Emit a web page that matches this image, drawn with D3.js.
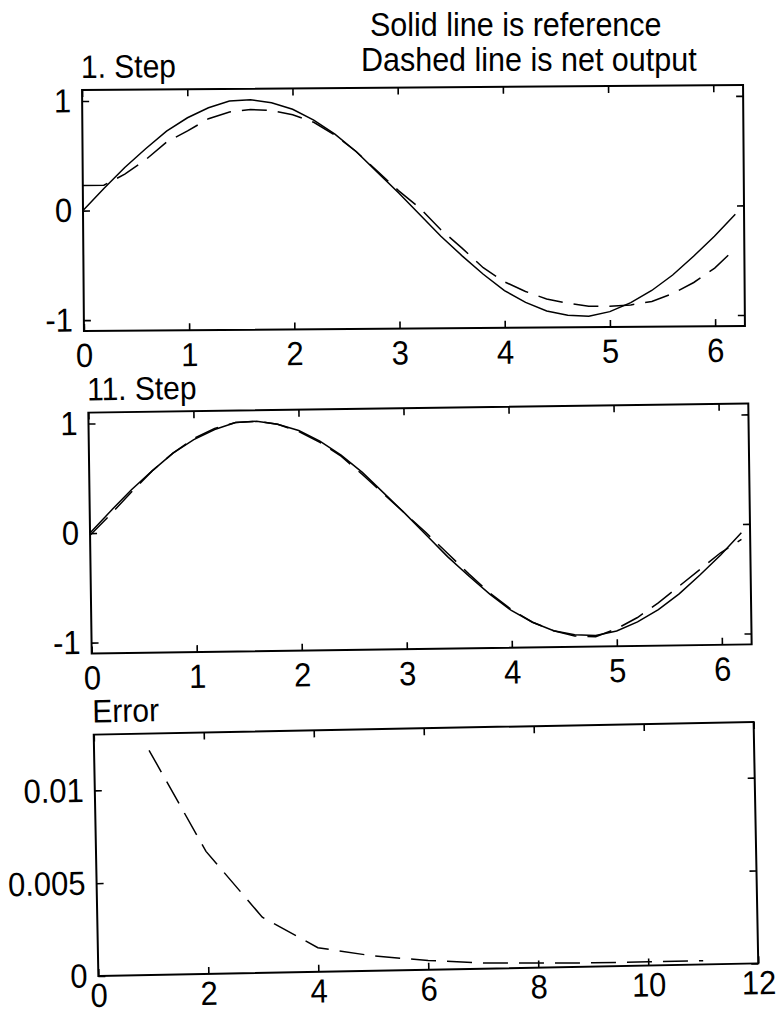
<!DOCTYPE html>
<html>
<head>
<meta charset="utf-8">
<script src="https://cdn.jsdelivr.net/npm/d3@7"></script>
<style>
  body { margin: 0; background: #fff; }
  text {
    font-family: "Liberation Sans", Arial, sans-serif; fill: #000;
    transform-box: fill-box; transform-origin: center; transform: scale(1, 1.08);
  }
</style>
</head>
<body>
<div id="main"></div>
<script>
// x samples of the sine runs
const xs = [0, 0.2, 0.4, 0.6, 0.8, 1.0, 1.2, 1.4, 1.6, 1.8, 2.0, 2.2, 2.4, 2.6, 2.8, 3.0,
            3.2, 3.4, 3.6, 3.8, 4.0, 4.2, 4.4, 4.6, 4.8, 5.0, 5.2, 5.4, 5.6, 5.8, 6.0, 6.2];
// solid line (reference)
const reference = [0.00, 0.20, 0.39, 0.56, 0.72, 0.84, 0.93, 0.99, 1.00, 0.97, 0.91, 0.81, 0.68, 0.52, 0.33, 0.14,
                   -0.06, -0.26, -0.44, -0.61, -0.76, -0.87, -0.95, -0.99, -1.00, -0.96, -0.88, -0.77, -0.63, -0.46, -0.28, -0.08];
// dashed line, net output after step 1
const step1 = [0.23, 0.23, 0.33, 0.46, 0.62, 0.72, 0.83, 0.89, 0.91, 0.90, 0.86, 0.79, 0.67, 0.52, 0.34, 0.16,
               0.00, -0.20, -0.37, -0.55, -0.68, -0.77, -0.84, -0.88, -0.91, -0.91, -0.90, -0.87, -0.80, -0.70, -0.57, -0.39];
// dashed line, net output after step 11
const step11 = [-0.02, 0.17, 0.37, 0.56, 0.72, 0.85, 0.94, 0.99, 1.00, 0.97, 0.90, 0.80, 0.67, 0.50, 0.32, 0.14,
                -0.04, -0.23, -0.42, -0.60, -0.75, -0.87, -0.95, -1.00, -1.01, -0.94, -0.84, -0.71, -0.56, -0.41, -0.26, -0.14];
// error per step
const epochs = [1, 2, 3, 4, 5, 6, 7, 8, 9, 10, 11];
const errors = [0.0121, 0.0066, 0.0030, 0.0013, 0.0008, 0.0005, 0.0003, 0.00025, 0.0002, 0.0002, 0.0002];

const sineTicksX = [0, 1, 2, 3, 4, 5, 6];
const sineTicksY = [-1, 0, 1];
const sineTickLabelsY = ["-1", "0", "1"];
const errTicksX = [0, 2, 4, 6, 8, 10, 12];
const errTicksY = [0, 0.005, 0.01];
const errTickLabelsY = ["0", "0.005", "0.01"];

const width = 778;
const height = 1015;

const svg = d3.select("#main")
  .append("svg")
  .attr("width", width)
  .attr("height", height);

svg.append("rect").attr("width", width).attr("height", height).attr("fill", "#fff");

// header text
svg.append("text").attr("x", 370).attr("y", 35).attr("font-size", "30.5px").text("Solid line is reference");
svg.append("text").attr("x", 361).attr("y", 70).attr("font-size", "30.5px").text("Dashed line is net output");

function panel(p) {
  const left = p.cx - p.w / 2, right = p.cx + p.w / 2;
  const top = p.cy - p.h / 2, bottom = p.cy + p.h / 2;

  const g = svg.append("g").attr("transform", `rotate(${p.angle},${p.cx},${p.cy})`);

  const x = d3.scaleLinear().domain(p.xDomain).range([left, right]);
  const y = d3.scaleLinear().domain(p.yDomain).range([bottom, top]);

  g.append("text")
    .attr("x", left - 1)
    .attr("y", top - 13)
    .attr("font-size", "30px")
    .text(p.title);

  const yFmt = d => p.yLabels[p.yTicks.indexOf(d)];

  const axes = [
    g.append("g").attr("transform", `translate(0,${bottom})`)
      .call(d3.axisBottom(x).tickValues(p.xTicks).tickSize(-7).tickPadding(p.xPad).tickFormat(d3.format("d"))),
    g.append("g").attr("transform", `translate(0,${top})`)
      .call(d3.axisTop(x).tickValues(p.xTicks).tickSize(-7).tickFormat("")),
    g.append("g").attr("transform", `translate(${left},0)`)
      .call(d3.axisLeft(y).tickValues(p.yTicks).tickSize(-7).tickPadding(11).tickFormat(yFmt)),
    g.append("g").attr("transform", `translate(${right},0)`)
      .call(d3.axisRight(y).tickValues(p.yTicks).tickSize(-7).tickFormat(""))
  ];
  axes.forEach(a => {
    a.select(".domain").remove();
    a.selectAll(".tick line").attr("stroke", "#000").attr("stroke-width", 1.6);
    a.selectAll(".tick text").attr("font-size", "31px").attr("font-family", "Liberation Sans, Arial, sans-serif");
  });

  g.append("rect")
    .attr("x", left).attr("y", top)
    .attr("width", p.w).attr("height", p.h)
    .attr("fill", "none")
    .attr("stroke", "#000")
    .attr("stroke-width", 2);

  const line = d3.line().x(d => x(d[0])).y(d => y(d[1]));

  p.series.forEach(s => {
    g.append("path")
      .datum(d3.zip(s.x, s.y))
      .attr("d", line)
      .attr("fill", "none")
      .attr("stroke", "#000")
      .attr("stroke-width", 1.5)
      .attr("stroke-dasharray", s.dashed ? "25,11" : null);
  });
}

panel({
  cx: 413.5, cy: 208, w: 661, h: 241, angle: -0.45,
  title: "1. Step", xPad: 13,
  xDomain: [0, 2 * Math.PI], yDomain: [-1.1, 1.1],
  xTicks: sineTicksX, yTicks: sineTicksY, yLabels: sineTickLabelsY,
  series: [{ x: xs, y: reference }, { x: xs, y: step1, dashed: true }]
});

panel({
  cx: 420, cy: 528.5, w: 660, h: 241, angle: -0.8,
  title: "11. Step", xPad: 13,
  xDomain: [0, 2 * Math.PI], yDomain: [-1.1, 1.1],
  xTicks: sineTicksX, yTicks: sineTicksY, yLabels: sineTickLabelsY,
  series: [{ x: xs, y: reference }, { x: xs, y: step11, dashed: true }]
});

panel({
  cx: 426, cy: 849, w: 660, h: 241.5, angle: -1.1,
  title: "Error", xPad: 8,
  xDomain: [0, 12], yDomain: [0, 0.013],
  xTicks: errTicksX, yTicks: errTicksY, yLabels: errTickLabelsY,
  series: [{ x: epochs, y: errors, dashed: true }]
});
</script>
</body>
</html>
